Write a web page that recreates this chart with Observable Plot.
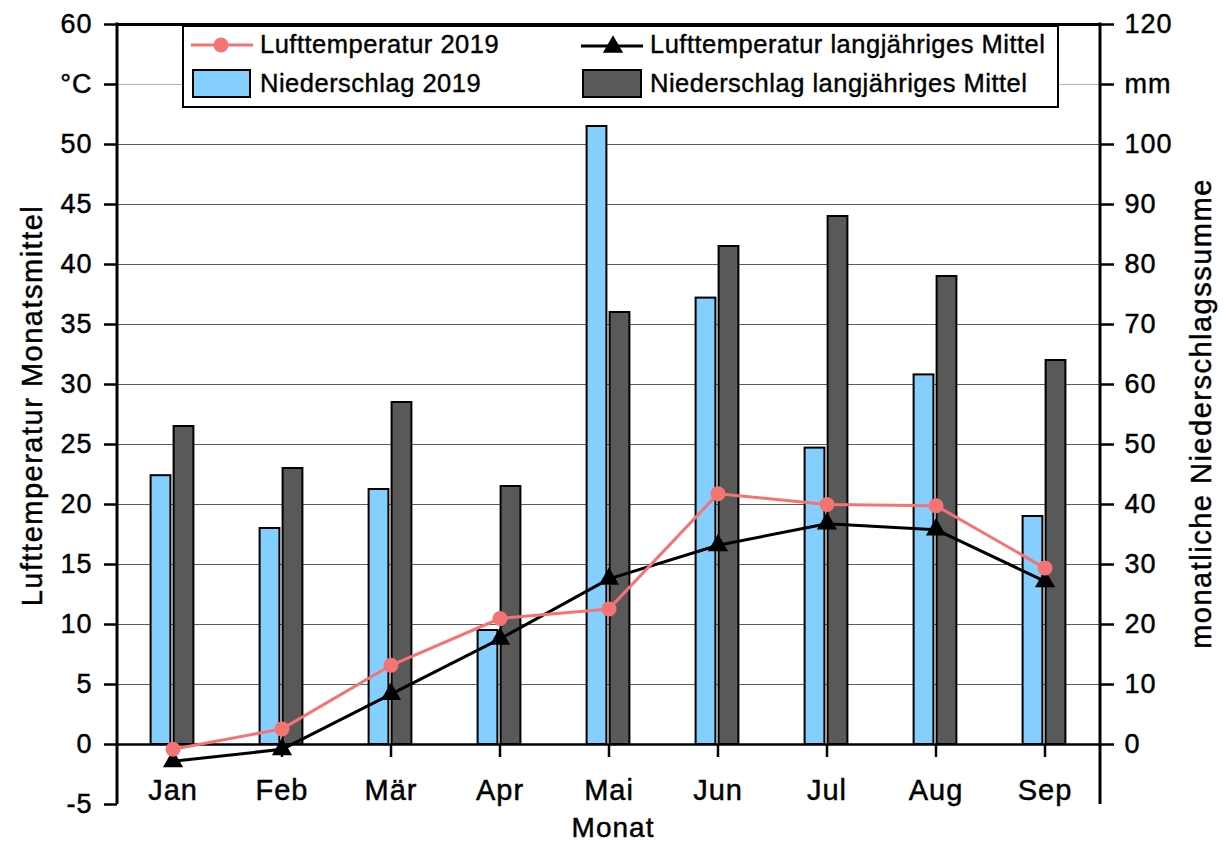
<!DOCTYPE html>
<html><head><meta charset="utf-8">
<script src="https://cdn.jsdelivr.net/npm/d3@7"></script>
<script src="https://cdn.jsdelivr.net/npm/@observablehq/plot@0.6"></script>
<style>
body{margin:0;background:#fff;}
#wrap{position:relative;width:1224px;height:843px;font-family:"Liberation Sans",Arial,sans-serif;}
#legend{position:absolute;left:182px;top:25px;width:873px;height:79px;border:2px solid #000;background:#fff;}
.sw{position:absolute;}
.lab{position:absolute;font-size:25.5px;line-height:25.5px;letter-spacing:0.5px;color:#000;white-space:nowrap;-webkit-text-stroke:0.4px #000;}
svg text{stroke:#000;stroke-width:0.45px;}
</style></head><body><div id="wrap"></div>
<script>
const months = ["Jan","Feb","Mär","Apr","Mai","Jun","Jul","Aug","Sep"];
const temp2019 = [-0.4, 1.3, 6.6, 10.5, 11.3, 20.9, 20.0, 19.9, 14.7];
const tempMittel = [-1.4, -0.4, 4.2, 8.8, 13.8, 16.6, 18.4, 17.9, 13.6];
const nied2019 = [44.8, 36, 42.5, 19, 103, 74.4, 49.4, 61.6, 38];
const niedMittel = [53, 46, 57, 43, 72, 83, 88, 78, 64];
const leftTicks = [-5,0,5,10,15,20,25,30,35,40,45,50,55,60];
const rightTicks = [0,5,10,15,20,25,30,35,40,45,50,55,60];
const seriesNames = ["Lufttemperatur 2019","Lufttemperatur langjähriges Mittel","Niederschlag 2019","Niederschlag langjähriges Mittel"];
const colors = {t2019:"#F57373", tMittel:"#000000", p2019:"#84CFFF", pMittel:"#595959"};

const data = months.map((m,i)=>({month:m, t2019:temp2019[i], tMittel:tempMittel[i], p2019:nied2019[i], pMittel:niedMittel[i]}));

const chart = Plot.plot({
  width:1224, height:843, marginLeft:117, marginRight:124, marginTop:24, marginBottom:39,
  style:"font-family:'Liberation Sans',Arial,sans-serif;background:white;color:black;overflow:visible;letter-spacing:1px;",
  x:{type:"band", domain:months, padding:0},
  y:{domain:[-5,60]},
  marks:[
    Plot.ruleY(leftTicks.filter(d=>d>0 && d<60 && d!==55), {stroke:"#5c5c5c", strokeWidth:1}),
    Plot.ruleY([55], {stroke:"#b4b4b4", strokeWidth:1}),
    Plot.barY(data, {x:"month", y1:0, y2:d=>d.p2019/2, fill:colors.p2019, stroke:"#000", strokeWidth:2, insetLeft:32.6, insetRight:56.6}),
    Plot.barY(data, {x:"month", y1:0, y2:d=>d.pMittel/2, fill:colors.pMittel, stroke:"#000", strokeWidth:2, insetLeft:55.6, insetRight:33.6}),
    Plot.ruleY([0], {stroke:"#000", strokeWidth:2.5}),
    Plot.ruleY([60], {stroke:"#000", strokeWidth:3}),
    Plot.axisY({anchor:"left", ticks:leftTicks, tickSize:13, tickPadding:12, fontSize:27, strokeWidth:2.5, label:null, tickFormat:d=>d===55?"°C":String(d)}),
    Plot.axisY({anchor:"right", ticks:rightTicks, tickSize:13, tickPadding:11, fontSize:27, strokeWidth:2.5, label:null, tickFormat:d=>d===55?"mm":String(d*2)}),
    Plot.axisX({anchor:"bottom", dy:-60, tickSize:13, tickPadding:22, fontSize:29, strokeWidth:2.5, label:null}),
    Plot.line(data, {x:"month", y:"tMittel", stroke:colors.tMittel, strokeWidth:3}),
    Plot.dot(data, {x:"month", y:"tMittel", symbol:"triangle", r:7.5, fill:colors.tMittel}),
    Plot.line(data, {x:"month", y:"t2019", stroke:colors.t2019, strokeWidth:3}),
    Plot.dot(data, {x:"month", y:"t2019", r:7.5, fill:colors.t2019}),
    Plot.text(["Lufttemperatur Monatsmittel"], {text:d=>d, frameAnchor:"left", dx:-85, dy:-9, rotate:-90, fontSize:29, textAnchor:"middle", lineAnchor:"middle"}),
    Plot.text(["monatliche Niederschlagssumme"], {text:d=>d, frameAnchor:"right", dx:101, dy:-1, rotate:-90, fontSize:29, textAnchor:"middle", lineAnchor:"middle"}),
    Plot.text(["Monat"], {text:d=>d, frameAnchor:"bottom", dx:4, dy:24, fontSize:28, textAnchor:"middle", lineAnchor:"middle"})
  ]
});

// spines (left and right) using the plot's y scale
const ys = chart.scale("y");
const svg = d3.select(chart);
[117, 1100].forEach(xp => {
  svg.append("line").attr("x1", xp).attr("x2", xp)
    .attr("y1", ys.apply(60) - 1.5).attr("y2", ys.apply(-5))
    .attr("stroke", "#000").attr("stroke-width", 3);
});
svg.selectAll("text").filter(function(){ return /Monatsmittel|Niederschlagssumme/.test(this.textContent); })
  .style("letter-spacing", "1.5px");

const wrap = document.getElementById("wrap");
wrap.appendChild(chart);

// legend overlay
const lg = document.createElement("div");
lg.id = "legend";
wrap.appendChild(lg);
function add(html){ const t = document.createElement("div"); t.innerHTML = html; wrap.appendChild(t.firstChild); }
add(`<svg class="sw" style="left:188px;top:30px" width="68" height="30"><line x1="3" x2="65" y1="15" y2="15" stroke="${colors.t2019}" stroke-width="3"/><circle cx="33" cy="15" r="7.5" fill="${colors.t2019}"/></svg>`);
add(`<svg class="sw" style="left:578px;top:31px" width="68" height="30"><line x1="3" x2="65" y1="15" y2="15" stroke="#000" stroke-width="3"/><path transform="translate(35,16)" d="${d3.symbol(d3.symbolTriangle, Math.PI*7.5*7.5)()}" fill="#000"/></svg>`);
add(`<svg class="sw" style="left:192px;top:69px" width="60" height="30"><rect x="1" y="1" width="57" height="27" fill="${colors.p2019}" stroke="#000" stroke-width="2"/></svg>`);
add(`<svg class="sw" style="left:582px;top:69px" width="62" height="30"><rect x="1" y="1" width="58" height="27" fill="${colors.pMittel}" stroke="#000" stroke-width="2"/></svg>`);
add(`<div class="lab" style="left:260px;top:32px">${seriesNames[0]}</div>`);
add(`<div class="lab" style="left:650px;top:32px">${seriesNames[1]}</div>`);
add(`<div class="lab" style="left:260px;top:71px">${seriesNames[2]}</div>`);
add(`<div class="lab" style="left:650px;top:71px">${seriesNames[3]}</div>`);
</script></body></html>
